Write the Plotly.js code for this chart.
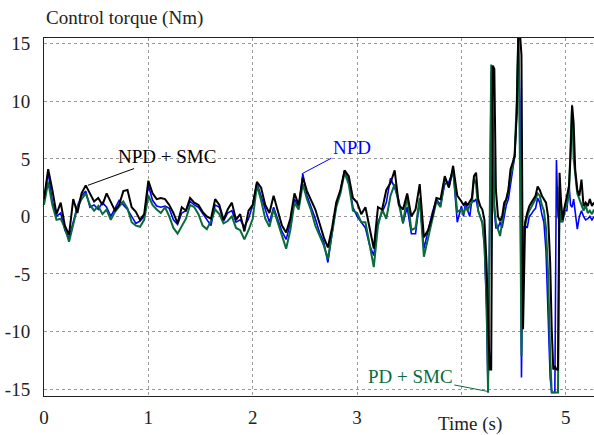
<!DOCTYPE html>
<html>
<head>
<meta charset="utf-8">
<script src="https://cdn.plot.ly/plotly-3.0.1.min.js"></script>
<style>html,body{margin:0;padding:0;background:#fff;}#chart{width:594px;height:435px;}</style>
</head>
<body>
<div id="chart"></div>
<script>
// Time samples (s)
const time = [
0,0.04,0.08,0.12,0.16,0.20,0.24,0.28,0.32,0.36,0.40,0.44,0.48,0.52,0.56,0.60,0.64,0.68,0.72,0.76,0.80,0.84,0.88,0.92,0.96,
1.00,1.04,1.08,1.12,1.16,1.20,1.24,1.28,1.32,1.36,1.40,1.44,1.48,1.52,1.56,1.60,1.64,1.68,1.72,1.76,1.80,1.84,1.88,1.92,1.96,
2.00,2.04,2.08,2.12,2.16,2.20,2.24,2.28,2.32,2.36,2.40,2.44,2.48,2.52,2.56,2.60,2.64,2.68,2.72,2.76,2.80,2.84,2.88,2.92,2.96,
3.00,3.04,3.08,3.12,3.16,3.20,3.24,3.28,3.32,3.36,3.40,3.44,3.48,3.52,3.56,3.60,3.64,3.68,3.72,3.76,3.80,3.84,3.88,3.92,3.96,
4.00,4.02,4.04,4.06,4.08,4.10,4.12,4.14,4.16,4.18,4.20,4.22,4.24,
4.255,4.27,4.285,4.30,4.315,4.33,
4.35,4.37,4.39,4.41,4.43,4.45,4.47,4.49,4.51,4.53,
4.545,4.56,4.575,4.59,
4.61,4.63,4.65,4.67,4.69,4.71,4.73,4.75,4.77,4.79,4.81,4.83,4.85,
4.865,4.88,4.895,4.91,4.925,4.94,4.955,4.97,
4.99,5.01,5.03,
5.045,5.06,5.075,5.09,
5.11,5.13,5.15,5.17,5.19,5.21,5.23,5.25,5.27
];

// NPD (blue)
const npd = [
1.5,3.8,1.3,0.0,0.3,-1.2,-1.9,-0.4,0.9,1.8,2.2,0.8,1.0,0.6,1.2,0.8,0.0,0.7,1.4,1.0,0.6,0.0,-0.6,-0.4,0.0,
2.7,1.4,0.9,0.8,0.9,0.7,-0.3,-0.7,0.3,0.5,1.3,1.0,0.8,0.3,-0.2,-0.8,1.0,0.8,-0.4,0.3,0.5,-0.5,-0.3,-0.9,-0.2,
1.0,2.9,1.7,0.5,-0.5,0.8,-0.2,-1.3,-2.0,-0.6,1.5,0.8,3.7,1.8,0.8,-0.2,-1.4,-2.2,-4.0,-1.3,1.0,2.2,4.0,3.0,0.8,
0.0,-0.5,-1.0,-2.5,-3.4,-0.5,0.3,1.2,3.3,2.5,1.4,-0.6,0.8,-1.5,-1.5,1.4,-2.8,-1.2,0.3,1.5,1.0,2.8,3.0,4.0,-0.5,
0.9,0.0,1.3,0.5,0.0,1.5,1.3,1.5,0.5,0.0,-0.5,-2.5,-8.0,
-15.3,-3.0,12.5,8.0,0.5,-1.0,
-1.0,-0.5,-1.0,0.0,1.0,1.5,3.0,4.0,5.2,9.0,
16,10.0,-14.0,-1.0,
-0.8,-1.0,0.0,0.2,0.5,0.7,1.6,1.2,0.2,-0.5,-3.0,-8.0,-14.0,
-15.3,-15.3,-15.3,4.9,0.0,-0.5,0.0,-0.5,
0.5,0.5,2.9,
1.0,0.8,1.5,0.5,
-1.1,0.0,0.5,0.0,-0.3,-0.2,0.0,-0.3,0.0
];

// PD + SMC (green)
const pdSmc = [
1.0,3.0,1.0,-0.3,-0.2,-1.0,-2.2,-0.8,0.8,1.5,2.0,1.0,0.5,0.9,0.2,0.6,-0.3,0.4,0.9,1.3,0.7,-0.5,-0.8,-0.9,-0.3,
1.8,1.0,0.6,0.3,0.8,0.0,-1.0,-1.5,-0.8,-0.2,1.0,0.8,0.2,-0.8,-1.1,-0.4,0.6,0.2,-0.6,-0.4,0.0,-1.0,-1.2,-2.0,-1.2,
-0.2,2.7,1.4,-0.2,-0.9,0.6,-0.5,-1.8,-2.8,-1.2,1.2,0.6,2.8,1.5,0.5,-0.8,-1.6,-2.5,-3.7,-1.5,0.8,2.0,3.8,2.8,0.5,
0.3,-0.5,-0.5,-2.3,-4.4,-0.8,0.6,-0.2,1.8,2.8,1.0,-0.6,1.8,-1.2,-1.0,1.6,-3.5,-2.0,-0.3,1.3,0.8,3.3,2.6,4.0,0.4,
0.6,0.2,0.8,0.5,1.0,1.2,3.3,2.8,0.5,0.0,-0.6,-2.5,-7.0,
-15.3,-3.0,13.2,8.0,1.0,-0.5,
-1.1,-1.7,-0.5,0.8,1.5,2.3,3.5,4.3,5.5,10.0,
16,5.0,-12.1,-1.0,
-0.8,0.0,0.5,0.8,1.2,1.5,2.0,1.8,1.0,0.5,-1.0,-5.0,-12.0,
-15.3,-15.3,-15.3,-15.3,-15.3,2.6,-0.5,-0.3,
0.8,1.0,2.0,
6.0,9.7,5.0,3.5,
2.0,1.5,1.0,0.5,1.0,0.3,0.5,0.2,0.6
];

// NPD + SMC (black)
const npdSmc = [
1.5,4.1,2.3,0.2,1.2,-0.8,-1.6,1.5,0.3,2.0,2.7,2.0,1.3,1.6,1.0,2.0,1.2,0.5,1.0,2.2,2.3,0.8,0.4,-0.3,0.2,
3.1,2.0,1.5,1.6,1.5,1.0,0.3,-0.6,0.8,0.5,1.6,1.2,1.0,0.4,0.0,-0.2,1.5,1.0,-0.3,0.6,1.2,-0.3,0.2,-1.3,0.5,
1.0,3.0,2.5,1.0,0.3,1.8,0.5,-0.8,-1.4,-0.2,2.0,1.0,3.4,2.2,1.4,0.6,-0.6,-1.8,-2.7,-1.0,1.2,2.3,4.0,3.5,1.6,
1.2,0.2,0.8,-1.0,-2.8,0.8,0.6,2.3,2.9,4.0,1.0,0.6,2.0,0.0,0.6,2.8,-1.8,-1.2,0.0,1.6,1.5,3.5,2.5,4.4,1.8,
1.3,1.0,1.2,1.0,1.3,1.6,3.5,3.8,1.5,0.9,0.6,-0.3,-4.0,
-9.8,-13.3,-13.3,13.1,12.8,2.3,
0.0,-0.4,0.0,1.2,1.5,2.3,4.1,4.7,5.2,9.0,
16,16,14,-9.8,
-0.5,0.3,0.9,1.2,1.5,1.8,2.6,2.3,1.8,1.5,1.2,0.0,-4.0,
-9.8,-13.3,-13.0,-13.3,-13.3,3.8,1.2,-0.3,
0.9,1.8,2.6,
5.2,9.6,8.1,4.1,
2.3,1.8,3.2,0.9,1.2,0.9,1.5,0.9,1.2
];

const xTickVals = [0,1,2,3,4,5];
const xTickText = ['0','1','2','3','','5'];
const yTickVals = [-15,-10,-5,0,5,10,15];
const yTickText = ['-15','-10','-5','0','5','10','15'];

const FONT = 'Liberation Serif, Times New Roman, serif';
const BLUE = '#0000ff';
const GREEN = '#0b6a3c';
const BLACK = '#000000';
const TXT = '#222222';

const traces = [
  {x: time, y: npd, type: 'scatter', mode: 'lines', name: 'NPD', line: {color: BLUE, width: 1.6}},
  {x: time, y: pdSmc, type: 'scatter', mode: 'lines', name: 'PD + SMC', line: {color: GREEN, width: 2}},
  {x: time, y: npdSmc, type: 'scatter', mode: 'lines', name: 'NPD + SMC', line: {color: BLACK, width: 2}}
];

const layout = {
  width: 594, height: 435,
  margin: {l: 44, r: 0, t: 38, b: 39},
  paper_bgcolor: '#fff', plot_bgcolor: '#fff',
  showlegend: false,
  font: {family: FONT, size: 19, color: TXT},
  xaxis: {
    range: [0, 5.27], tickvals: xTickVals, ticktext: xTickText,
    showgrid: true, gridcolor: '#999', griddash: 'dot', gridwidth: 1,
    zeroline: false, showline: true, linecolor: '#222', linewidth: 1, mirror: true,
    ticks: '', ticklabelstandoff: 4, tickfont: {family: FONT, size: 19, color: TXT}
  },
  yaxis: {
    range: [-15.6, 15.5], tickvals: yTickVals, ticktext: yTickText,
    showgrid: true, gridcolor: '#999', griddash: 'dot', gridwidth: 1,
    zeroline: false, showline: true, linecolor: '#222', linewidth: 1, mirror: false,
    ticks: '', ticklabelstandoff: 9, tickfont: {family: FONT, size: 19, color: TXT}
  },
  annotations: [
    {xref: 'paper', yref: 'paper', x: 0, y: 1.056, xanchor: 'left', yanchor: 'middle',
     text: 'Control torque (Nm)', showarrow: false, font: {family: FONT, size: 19, color: TXT}},
    {xref: 'paper', yref: 'paper', x: 0.775, y: -0.078, xanchor: 'center', yanchor: 'middle',
     text: 'Time (s)', showarrow: false, font: {family: FONT, size: 19, color: TXT}},
    {x: 0.42, y: 2.7, xref: 'x', yref: 'y', ax: 1.18, ay: 5.2, axref: 'x', ayref: 'y',
     text: 'NPD + SMC', showarrow: true, arrowhead: 0, arrowwidth: 1, arrowcolor: BLACK,
     font: {family: FONT, size: 19, color: BLACK}},
    {x: 2.47, y: 3.7, xref: 'x', yref: 'y', ax: 2.95, ay: 6.0, axref: 'x', ayref: 'y',
     text: 'NPD', showarrow: true, arrowhead: 0, arrowwidth: 1, arrowcolor: BLUE,
     font: {family: FONT, size: 19, color: BLUE}},
    {x: 4.25, y: -15.2, xref: 'x', yref: 'y', ax: 3.51, ay: -13.9, axref: 'x', ayref: 'y',
     text: 'PD + SMC', showarrow: true, arrowhead: 0, arrowwidth: 1, arrowcolor: GREEN,
     font: {family: FONT, size: 19, color: GREEN}}
  ]
};

Plotly.newPlot('chart', traces, layout, {displayModeBar: false, staticPlot: true});
</script>
</body>
</html>
